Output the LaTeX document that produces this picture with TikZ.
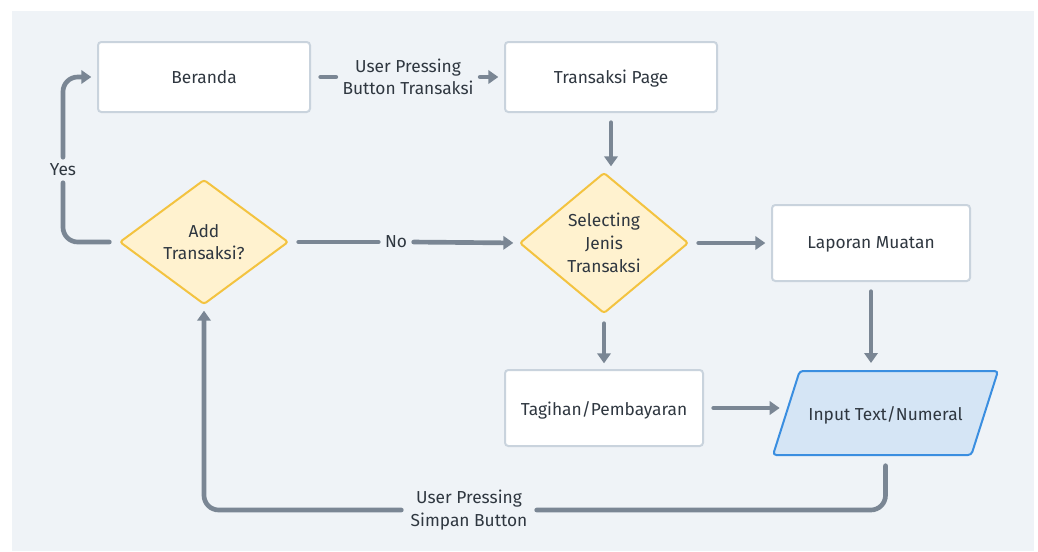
\documentclass[tikz,border=0pt]{standalone}
\usepackage{fontspec}
\IfFontExistsTF{Fira Sans Book}{\setmainfont{Fira Sans Book}}{\setmainfont{Fira Sans}}
\usetikzlibrary{arrows.meta,shapes.geometric,backgrounds}
\definecolor{bgc}{HTML}{EFF3F7}
\definecolor{linec}{HTML}{7A8694}
\definecolor{txtc}{HTML}{2F3740}
\definecolor{boxb}{HTML}{C9D3DD}
\definecolor{decf}{HTML}{FFF2CF}
\definecolor{decb}{HTML}{F3C340}
\definecolor{inf}{HTML}{D5E5F5}
\definecolor{inb}{HTML}{3A8EE0}
\tikzset{
  base/.style={font=\fontsize{13}{17}\selectfont, text=txtc, align=center, outer sep=0pt, inner sep=0pt},
  procbox/.style={base, draw=boxb, fill=white, line width=1.5pt, rounded corners=2.5pt, text depth=0pt},
  decbox/.style={base, diamond, draw=decb, fill=decf, line width=1.5pt, rounded corners=2pt},
  iobox/.style={base, text depth=0pt},
  iofill/.style={draw=inb, fill=inf, line width=1.5pt, rounded corners=2.5pt},
  lab/.style={base, inner sep=3pt},
  conn/.style={draw=linec, line width=3.5pt, line cap=round, rounded corners=11pt},
  arr/.style={conn, -{Triangle[length=7.5pt,width=10pt]}},
}
\begin{document}
\begin{tikzpicture}[x=0.75pt,y=-0.75pt]
\useasboundingbox (0,0) rectangle (1038,551);
\begin{scope}[on background layer]
\fill[bgc] (12,11) rectangle (1034,551);
\end{scope}
% nodes
\node[procbox, minimum width=159pt, minimum height=52.5pt] (ber) at (204,77) {Beranda};
\node[procbox, minimum width=159pt, minimum height=52.5pt] (tp) at (611,77) {Transaksi Page};
\node[decbox, minimum width=126pt, minimum height=93pt] (add) at (204,242) {Add\\Transaksi?};
\node[decbox, minimum width=126pt, minimum height=105pt] (sel) at (604,243) {Selecting\\Jenis\\Transaksi};
\node[procbox, minimum width=148.5pt, minimum height=57pt] (lap) at (871,243) {Laporan Muatan};
\node[procbox, minimum width=148.5pt, minimum height=57pt] (tag) at (604,408) {Tagihan/Pembayaran};
\node[iobox, minimum width=168.75pt, minimum height=63pt] (inp) at (885.5,413) {Input Text/Numeral};
\begin{scope}[on background layer]
\path[iofill] (inp.south west) -- ([xshift=20pt]inp.north west) -- (inp.north east)
  -- ([xshift=-20pt]inp.south east) -- cycle;
\end{scope}
% labels
\node[lab, inner sep=0pt] (l1) at (408,77) {User Pressing\\Button Transaksi};
\node[lab] (lyes) at (63,170) {Yes};
\node[lab] (lno) at (396,242) {No};
\node[lab, inner sep=0pt] (lsim) at (469,510) {User Pressing\\Simpan Button};
% connectors
\draw[conn, shorten <=8pt, shorten >=5pt] (ber.east) -- (l1.west);
\draw[arr, shorten <=5pt, shorten >=5pt] (l1.east) -- (tp.west);
\draw[arr, shorten <=8pt, shorten >=5pt] (tp.south) -- (tp.south |- sel.north);
\draw[conn, shorten <=8pt, shorten >=2pt] (add.west) -| (lyes.south);
\draw[arr, shorten <=2pt, shorten >=5pt] (lyes.north) |- (ber.west);
\draw[conn, shorten <=8pt, shorten >=2pt] (add.east) -- (lno.west);
\draw[arr, shorten <=2pt, shorten >=5pt] (lno.east) -- (sel.west);
\draw[arr, shorten <=8pt, shorten >=5pt] (sel.east) -- (lap.west);
\draw[arr, shorten <=8pt, shorten >=5pt] (sel.south) -- (tag.north);
\draw[arr, shorten <=8pt, shorten >=6pt] (lap.south) -- (lap.south |- inp.north);
\draw[arr, shorten <=8pt, shorten >=5pt] (tag.east) -- ([xshift=10pt]tag.east -| inp.west);
\draw[conn, shorten <=8pt, shorten >=7pt] (inp.south) |- (lsim.east);
\draw[arr, shorten <=7pt, shorten >=5pt] (lsim.west) -| (add.south);
\end{tikzpicture}
\end{document}
